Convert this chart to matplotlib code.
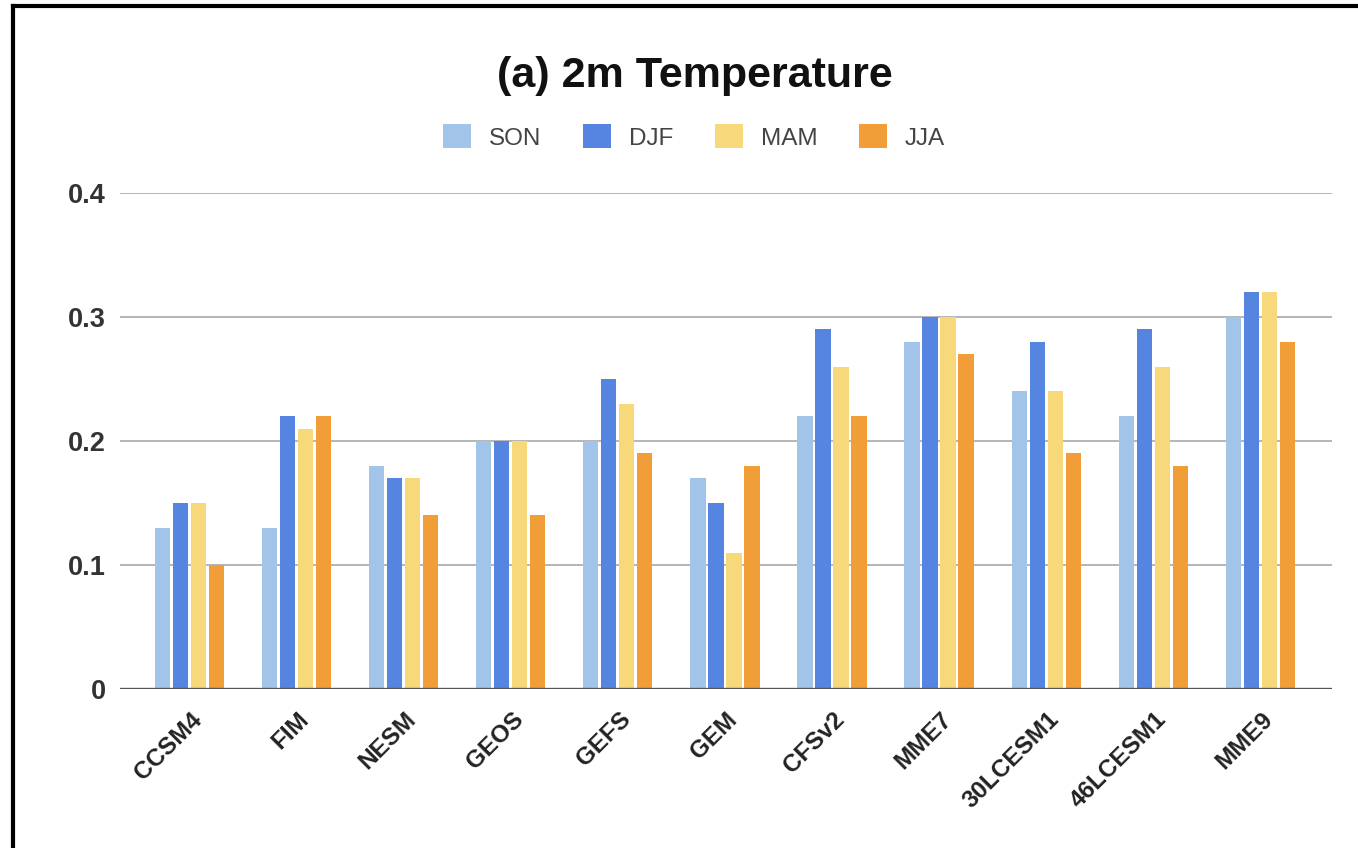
import matplotlib
matplotlib.use("Agg")
import matplotlib.pyplot as plt
import matplotlib.transforms as mtransforms
import numpy as np
from matplotlib.lines import Line2D

categories = ["CCSM4", "FIM", "NESM", "GEOS", "GEFS", "GEM", "CFSv2", "MME7",
              "30LCESM1", "46LCESM1", "MME9"]
son = [0.13, 0.13, 0.18, 0.20, 0.20, 0.17, 0.22, 0.28, 0.24, 0.22, 0.30]
djf = [0.15, 0.22, 0.17, 0.20, 0.25, 0.15, 0.29, 0.30, 0.28, 0.29, 0.32]
mam = [0.15, 0.21, 0.17, 0.20, 0.23, 0.11, 0.26, 0.30, 0.24, 0.26, 0.32]
jja = [0.10, 0.22, 0.14, 0.14, 0.19, 0.18, 0.22, 0.27, 0.19, 0.18, 0.28]
series_names = ["SON", "DJF", "MAM", "JJA"]
yticks = [0, 0.1, 0.2, 0.3, 0.4]
ytick_labels = ["0", "0.1", "0.2", "0.3", "0.4"]
title = "(a) 2m Temperature"

colors = ["#a2c4e9", "#5585e0", "#f7d87a", "#f19d38"]

plt.rcParams['font.family'] = ['Liberation Sans', 'DejaVu Sans']

W, H = 1358, 848
fig = plt.figure(figsize=(W / 100, H / 100), dpi=100)
fig.patch.set_facecolor("white")

ax = fig.add_axes([120 / W, 1 - 689 / H, (1332 - 120) / W, (689 - 193) / H])

x = np.arange(len(categories))
step = 0.168
width = 0.142
data = [son, djf, mam, jja]
for i, (vals, name, c) in enumerate(zip(data, series_names, colors)):
    ax.bar(x + (i - 1.5) * step, vals, width=width, color=c, label=name, zorder=3)

ax.set_ylim(0, 0.4)
ax.set_xlim(-0.65, len(categories) - 1 + 0.67)
ax.set_yticks(yticks)
ax.set_yticklabels(ytick_labels, fontsize=19.5, fontweight='bold', color='#333333')
ax.set_xticks(x)
ax.set_xticklabels([])
offset = mtransforms.ScaledTranslation(9 / 100, -27 / 100, fig.dpi_scale_trans)
lbl_trans = ax.get_xaxis_transform() + offset
for xi, cat in zip(x, categories):
    ax.text(xi, 0, cat, transform=lbl_trans, fontsize=17.5, fontweight='bold',
            color='#222222', rotation=45, ha='right', va='center',
            rotation_mode='anchor', clip_on=False)
ax.tick_params(axis='both', length=0)
ax.tick_params(axis='y', pad=10)
for s in ax.spines.values():
    s.set_visible(False)
ax.grid(axis='y', color='#b5b5b5', linewidth=1.4, zorder=0)
ax.axhline(0, color='#555555', linewidth=2.4, zorder=4)

fig.text(695 / W, 1 - 76 / H, title, ha='center', va='center',
         fontsize=31, fontweight='bold', color='#111111')

leg = fig.legend(loc='center', bbox_to_anchor=(694 / W, 1 - 137 / H), ncol=4,
                 frameon=False, fontsize=17.5, handlelength=1.15, handleheight=1.15,
                 handletextpad=0.75, columnspacing=1.7)
for t in leg.get_texts():
    t.set_color('#444444')

fig.add_artist(Line2D([13 / W, 1], [1 - 6 / H, 1 - 6 / H], color='black',
                      linewidth=3, transform=fig.transFigure))
fig.add_artist(Line2D([13 / W, 13 / W], [0, 1 - 6 / H], color='black',
                      linewidth=3, transform=fig.transFigure))

fig.savefig("out.png", dpi=100, facecolor="white")
